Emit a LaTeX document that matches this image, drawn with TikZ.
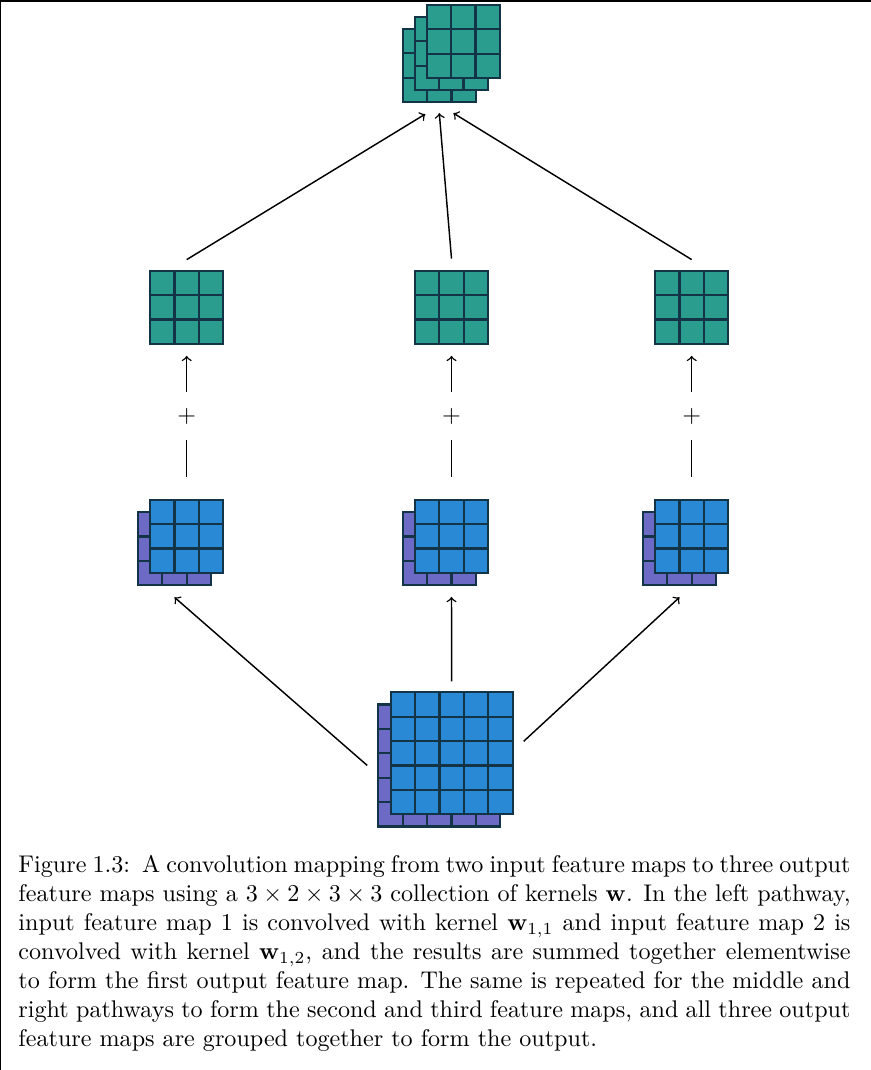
\documentclass[tikz,border=0pt]{standalone}
\usetikzlibrary{calc}

\definecolor{mapteal}{RGB}{42,157,143}
\definecolor{mapblue}{RGB}{41,137,213}
\definecolor{mappurple}{RGB}{108,106,196}
\definecolor{mapedge}{RGB}{18,52,70}

\newlength\pxlen
\setlength\pxlen{0.41466pt}
\newlength\cellw
\setlength\cellw{24.4\pxlen}
\setlength\parindent{0pt}

% one feature map: name, x, y, cells, colour
\newcommand{\fmap}[5]{%
  \node[mapnode, minimum size=#4\cellw] (#1) at (#2,#3) {};
  \begin{scope}[shift={(#1.south west)}]
    \draw[mapcell, fill=#5] (0,0) rectangle (#4\cellw,#4\cellw);
    \foreach \k in {1,...,#4}
      \draw[mapcell] (\k\cellw,0) -- (\k\cellw,#4\cellw)
                     (0,\k\cellw) -- (#4\cellw,\k\cellw);
  \end{scope}
}

\begin{document}
\begin{tikzpicture}[x=\pxlen, y=-\pxlen,
    mapnode/.style={inner sep=0pt, outer sep=0pt},
    mapcell/.style={draw=mapedge, line width=2.2\pxlen},
    link/.style={line width=0.6pt},
    sumnode/.style={inner sep=0pt},
    caption/.style={text width=345pt, align=justify, inner sep=0pt, anchor=north west}]
  \useasboundingbox (0,0) rectangle (871,1070);
  \draw[line width=3\pxlen] (0,1070) -- (0,0) -- (871,0);

  % output
  \fmap{outb}{439.3}{65.5}{3}{mapteal}
  \fmap{outm}{451.3}{53.5}{3}{mapteal}
  \fmap{out}{463.2}{41.5}{3}{mapteal}

  % summed maps
  \fmap{f1}{186.7}{307.2}{3}{mapteal}
  \fmap{f2}{451.5}{307.2}{3}{mapteal}
  \fmap{f3}{691.7}{307.2}{3}{mapteal}

  % kernel results
  \fmap{k1b}{174.5}{548.7}{3}{mappurple}
  \fmap{k1}{186.7}{536.3}{3}{mapblue}
  \fmap{k2b}{439.3}{548.7}{3}{mappurple}
  \fmap{k2}{451.5}{536.3}{3}{mapblue}
  \fmap{k3b}{679.5}{548.7}{3}{mappurple}
  \fmap{k3}{691.7}{536.3}{3}{mapblue}

  % input
  \fmap{inpb}{439.2}{765.4}{5}{mappurple}
  \fmap{inp}{451.7}{753.3}{5}{mapblue}

  \node[sumnode] (s1) at (186.7,416) {$+$};
  \node[sumnode] (s2) at (451.5,416) {$+$};
  \node[sumnode] (s3) at (691.7,416) {$+$};

  \draw[link,->] ($(inpb.west)+(-11,0)$) -- ($(k1b.south)+(0,12)$);
  \draw[link,->] ($(inp.north)+(0,-11)$) -- ($(k2.south)+(0,24)$);
  \draw[link,->] ($(inp.east)+(11,-12)$) -- ($(k3b.south)+(0,12)$);

  \foreach \i in {1,2,3} {
    \draw[link, shorten <=23\pxlen, shorten >=24\pxlen] (k\i.north) -- (s\i.center);
    \draw[link, ->, shorten <=24\pxlen, shorten >=12\pxlen] (s\i.center) -- (f\i.south);
  }

  \draw[link,->] ($(f1.north)+(0,-11)$) -- ($(outb.south)+(-14,12)$);
  \draw[link,->] ($(f2.north)+(0,-12)$) -- ($(outb.south)+(0,11)$);
  \draw[link,->] ($(f3.north)+(0,-11)$) -- ($(outb.south)+(14,11)$);

  \node[caption] (cap) at (18,855) {Figure 1.3:\enspace A convolution mapping from two input feature maps to three output feature maps using a $3\times2\times3\times3$ collection of kernels $\mathbf{w}$. In the left pathway, input feature map 1 is convolved with kernel $\mathbf{w}_{1,1}$ and input feature map 2 is convolved with kernel $\mathbf{w}_{1,2}$, and the results are summed together elementwise to form the first output feature map. The same is repeated for the middle and right pathways to form the second and third feature maps, and all three output feature maps are grouped together to form the output.};
\end{tikzpicture}
\end{document}
